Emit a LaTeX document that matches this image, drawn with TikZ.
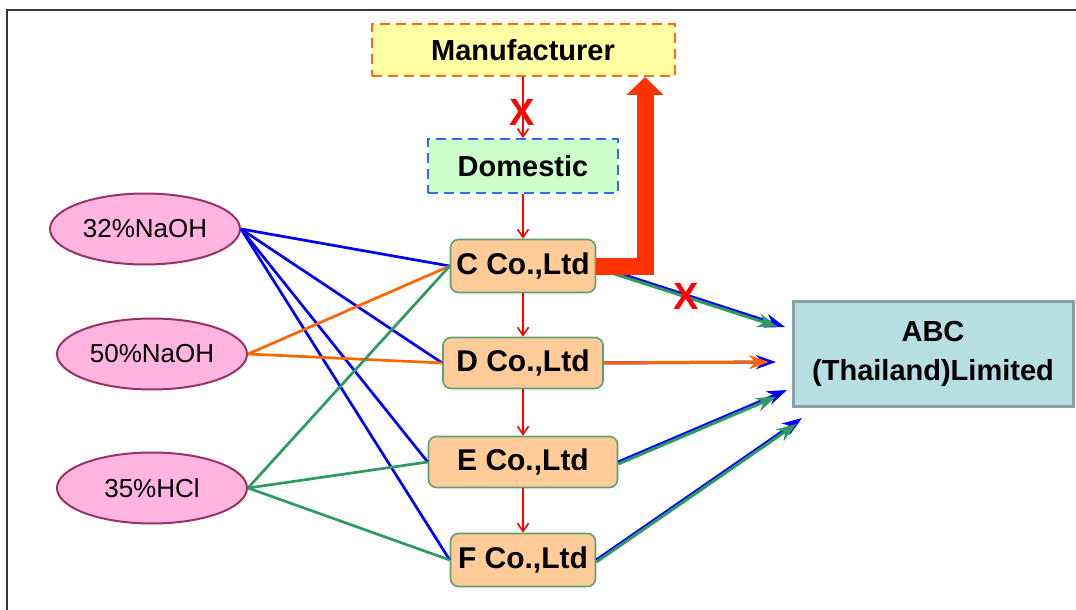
\documentclass[tikz,border=0pt]{standalone}
\usepackage{fontspec}
\setmainfont{Liberation Sans}
\usepackage{tikz}
\usetikzlibrary{arrows.meta,shapes.geometric}

\definecolor{peach}{HTML}{FFCC99}
\definecolor{firmedge}{HTML}{5FA070}
\definecolor{pinkfill}{HTML}{FFB5DF}
\definecolor{plum}{HTML}{993366}
\definecolor{paleyellow}{HTML}{FFFFA3}
\definecolor{dashorange}{HTML}{FF6A10}
\definecolor{palegreen}{HTML}{CCFFCC}
\definecolor{dashblue}{HTML}{3366FF}
\definecolor{abcfill}{HTML}{B7DEE2}
\definecolor{abcedge}{HTML}{86A2A2}
\definecolor{seagreen}{HTML}{2E9A62}
\definecolor{feedorange}{HTML}{FF6600}
\definecolor{redorange}{HTML}{FF3300}

\begin{document}
\begin{tikzpicture}[
    x=0.5pt, y=-0.5pt,
    firm/.style={draw=firmedge, line width=0.8pt, fill=peach, rounded corners=4pt, minimum height=26pt, inner sep=0pt, font=\fontsize{15}{18}\selectfont\bfseries},
    chem/.style={ellipse, draw=plum, line width=1pt, fill=pinkfill, minimum width=95pt, minimum height=35.5pt, inner sep=0pt, font=\fontsize{13}{15}\selectfont},
    dashbox/.style={line width=1pt, dash pattern=on 5pt off 3pt, minimum height=27pt, inner sep=0pt, font=\fontsize{14.5}{17}\selectfont\bfseries},
    feed/.style={line width=1.35pt},
    flow/.style={draw=red, line width=0.8pt, -{Straight Barb[length=4pt,width=5.5pt]}},
    supply/.style={line width=1.5pt, -{Stealth[length=10pt,width=7pt]}},
    cross/.style={text=red, font=\fontsize{19}{19}\selectfont\bfseries, inner sep=0pt},
]
\useasboundingbox (0,0) rectangle (1076,610);
\draw[black!80, line width=1.2pt] (7,610) -- (7,10) -- (1076,10);

% chemicals
\node[chem] (naoh32) at (145,229) {32\%NaOH};
\node[chem] (naoh50) at (152,354) {50\%NaOH};
\node[chem] (hcl35) at (152,488) {35\%HCl};

% supply chain
\node[dashbox, draw=dashorange, fill=paleyellow, minimum width=151.5pt, minimum height=26pt] (manuf) at (523,50) {Manufacturer};
\node[dashbox, draw=dashblue, fill=palegreen, minimum width=95pt] (domestic) at (523,166) {Domestic};
\node[firm, minimum width=72.5pt, minimum height=26.5pt] (cco) at (523,266) {C Co.,Ltd};
\node[firm, minimum width=80pt, minimum height=25.5pt] (dco) at (523,363) {D Co.,Ltd};
\node[firm, minimum width=94.5pt, minimum height=25.5pt] (eco) at (523,462) {E Co.,Ltd};
\node[firm, minimum width=72.5pt, minimum height=26.5pt] (fco) at (523,560) {F Co.,Ltd};
\node[draw=abcedge, line width=1.5pt, fill=abcfill, minimum width=140pt, minimum height=52.5pt, align=center, font=\fontsize{14.5}{19.5}\selectfont\bfseries] (abc) at (933,354) {ABC\\(Thailand)Limited};

% feeds
\draw[feed, blue] (naoh32.east) -- (cco.west);
\draw[feed, blue] (naoh32.east) -- (dco.west);
\draw[feed, blue] (naoh32.east) -- (eco.west);
\draw[feed, blue] (naoh32.east) -- (fco.west);
\draw[feed, feedorange] (naoh50.east) -- (cco.west);
\draw[feed, feedorange] (naoh50.east) -- (dco.west);
\draw[feed, seagreen] (hcl35.east) -- (cco.west);
\draw[feed, seagreen] (hcl35.east) -- (eco.west);
\draw[feed, seagreen] (hcl35.east) -- (fco.west);

% down the chain
\draw[flow] (manuf) -- (domestic);
\draw[flow] (domestic) -- (cco);
\draw[flow] (cco) -- (dco);
\draw[flow] (dco) -- (eco);
\draw[flow] (eco) -- (fco);
\node[cross] (xtop) at (522,112) {X};

% to ABC
\coordinate (tipC) at (785,327);
\coordinate (tipD) at (776,362);
\coordinate (tipE) at (787,390);
\coordinate (tipF) at (802,418);
\draw[supply, blue] (cco.east) -- (tipC);
\draw[supply, seagreen, shorten >=4pt, transform canvas={yshift=-1pt}] (cco.east) -- (tipC);
\draw[supply, blue] (dco.east) -- (tipD);
\draw[supply, feedorange, shorten >=3.5pt] (dco.east) -- (tipD);
\draw[supply, blue] (eco.east) -- (tipE);
\draw[supply, seagreen, shorten >=6pt, transform canvas={yshift=-1pt}] (eco.east) -- (tipE);
\draw[supply, blue] (fco.east) -- (tipF);
\draw[supply, seagreen, shorten >=3.5pt, transform canvas={yshift=-1pt}] (fco.east) -- (tipF);
\node[cross] (xside) at (686,296) {X};

% back to manufacturer
\coordinate (back) at (645,77);
\draw[redorange, line width=8.5pt, line join=miter, -{Triangle[width=18pt,length=9pt]}] (cco.east) -| (back);
\end{tikzpicture}
\end{document}
